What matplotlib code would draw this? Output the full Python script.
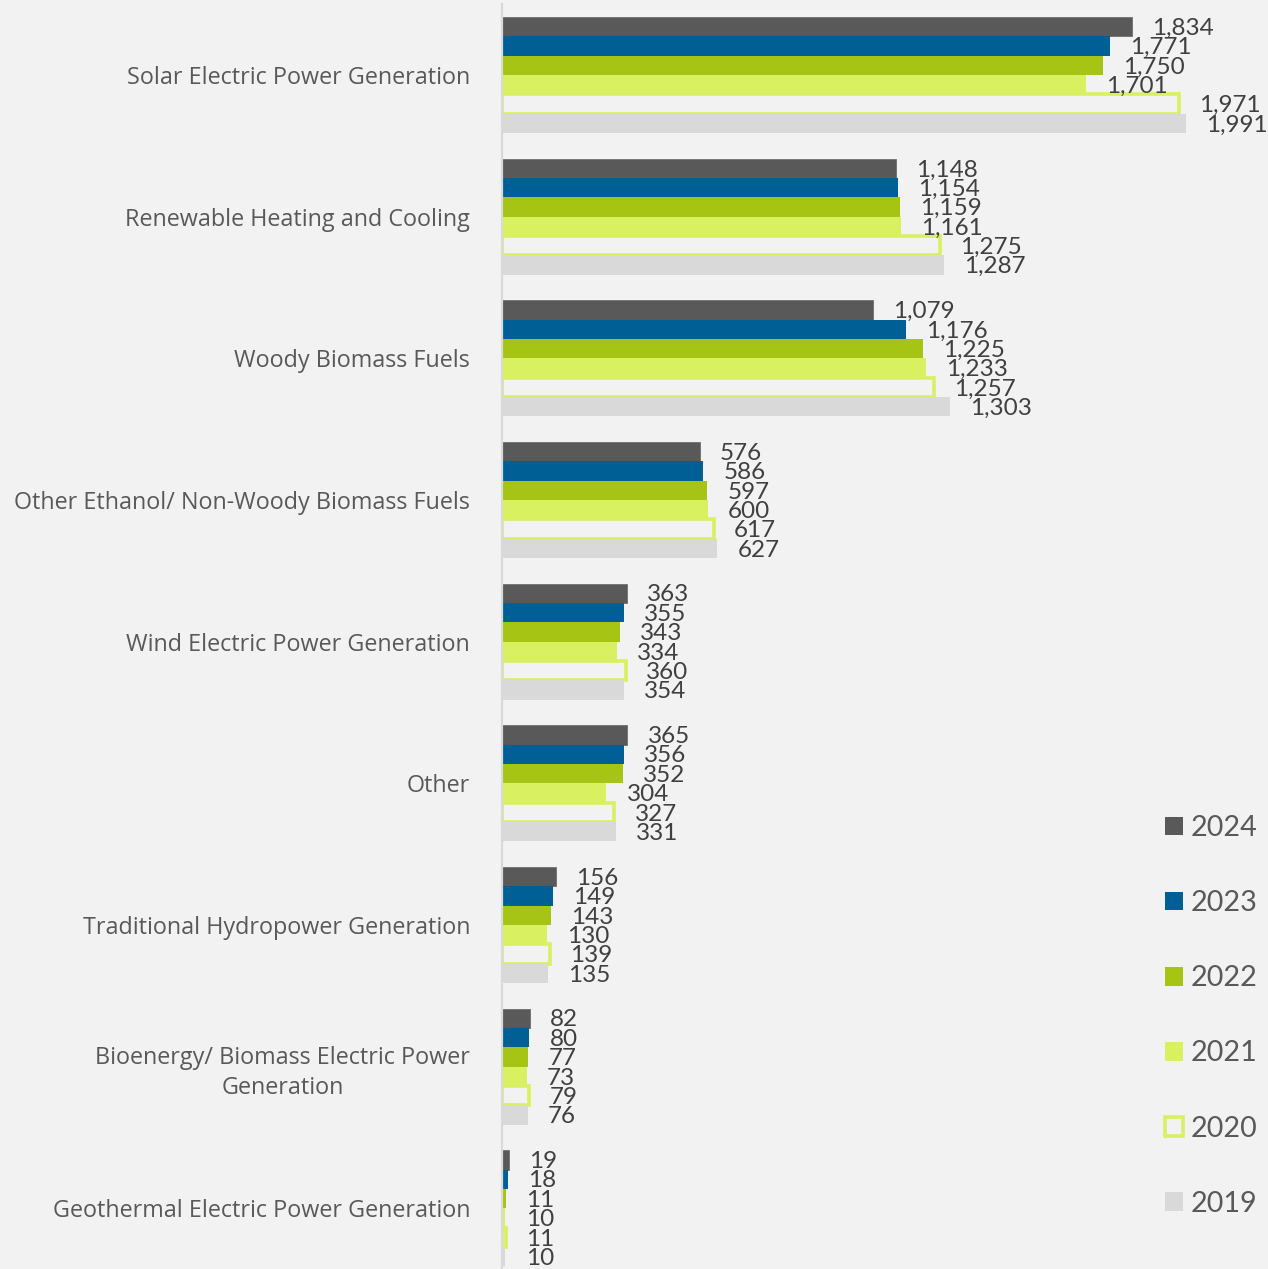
import matplotlib
matplotlib.use("Agg")
import matplotlib.pyplot as plt
from matplotlib.patches import Patch
import numpy as np

categories = [
    "Solar Electric Power Generation",
    "Renewable Heating and Cooling",
    "Woody Biomass Fuels",
    "Other Ethanol/ Non-Woody Biomass Fuels",
    "Wind Electric Power Generation",
    "Other",
    "Traditional Hydropower Generation",
    "Bioenergy/ Biomass Electric Power\nGeneration",
    "Geothermal Electric Power Generation",
]
years = ["2024", "2023", "2022", "2021", "2020", "2019"]
v2024 = [1834, 1148, 1079, 576, 363, 365, 156, 82, 19]
v2023 = [1771, 1154, 1176, 586, 355, 356, 149, 80, 18]
v2022 = [1750, 1159, 1225, 597, 343, 352, 143, 77, 11]
v2021 = [1701, 1161, 1233, 600, 334, 304, 130, 73, 10]
v2020 = [1971, 1275, 1257, 617, 360, 327, 139, 79, 11]
v2019 = [1991, 1287, 1303, 627, 354, 331, 135, 76, 10]
series = [v2024, v2023, v2022, v2021, v2020, v2019]

bg = "#f2f2f2"
face = ["#595959", "#005f94", "#a5c413", "#d9f061", bg, "#d9d9d9"]
edge = ["#6f6f6f", "#005f94", "#a5c413", "#d9f061", "#d9f061", "#d9d9d9"]
lws = [0.6, 0.0, 0.0, 0.0, 2.6, 0.0]

plt.rcParams['font.family'] = ['Lato', 'DejaVu Sans']

W, H = 1268, 1269
fig = plt.figure(figsize=(W / 100, H / 100), dpi=100, facecolor=bg)
top_px = 4.2
height_px = 1275
left_px = 502
ax = fig.add_axes([left_px / W, 1 - (top_px + height_px) / H, (W - left_px) / W, height_px / H])
ax.set_facecolor(bg)

n = len(categories)
group = 0.82
h = group / len(series)
y = np.arange(n)
px_per_unit = 0.3435
ax.set_xlim(0, (W - left_px) / px_per_unit)
ax.set_ylim(n - 0.5, -0.5)

handles = []
for j, (vals, yr) in enumerate(zip(series, years)):
    pos = y - group / 2 + h * (j + 0.5)
    bars = ax.barh(pos, vals, height=h, color=face[j], edgecolor=edge[j], linewidth=lws[j], label=yr, zorder=2)
    for b, v in zip(bars, vals):
        ax.annotate(f"{v:,}", (v, b.get_y() + b.get_height() / 2), xytext=(14.5, -1.2),
                    textcoords="offset points", ha="left", va="center",
                    fontsize=17.5, color="#404040", zorder=3)
    handles.append(Patch(facecolor=face[j], edgecolor=edge[j], linewidth=2.6 if j == 4 else 0, label=yr))

ax.set_yticks(y)
ax.set_yticklabels(categories, fontsize=16.8, color="#595959", multialignment="center",
                   family=["Open Sans", "DejaVu Sans"], linespacing=1.35)
ax.tick_params(axis="y", length=0, pad=23)
ax.set_xticks([])
for s in ["top", "right", "bottom"]:
    ax.spines[s].set_visible(False)
ax.spines["left"].set_color("#d9d9d9")
ax.spines["left"].set_linewidth(1.6)
ax.spines["left"].set_zorder(4)

leg = fig.legend(handles=handles, loc="upper left", bbox_to_anchor=(1165 / W, 1 - 815 / H),
                 frameon=False, fontsize=20.7, handlelength=0.62, handleheight=0.62,
                 handletextpad=0.28, labelspacing=1.71, borderpad=0, borderaxespad=0)
for t in leg.get_texts():
    t.set_color("#595959")

fig.savefig("out.png", dpi=100, facecolor=bg)
